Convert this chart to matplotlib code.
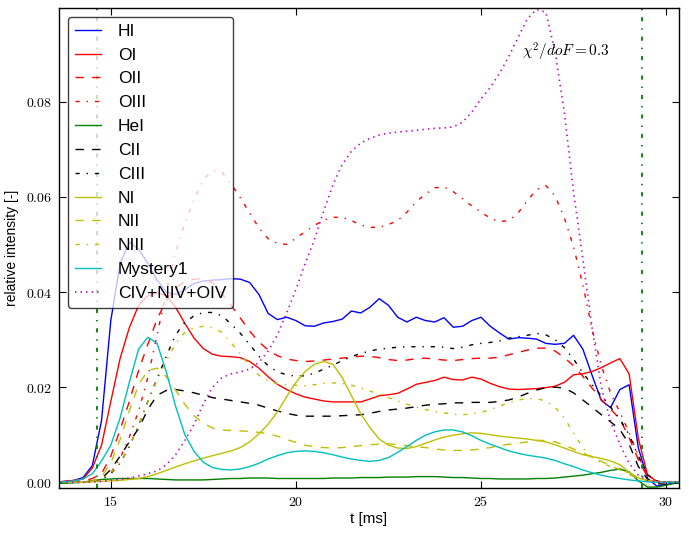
import numpy as np
import matplotlib
matplotlib.use("Agg")
import matplotlib.pyplot as plt
from matplotlib.ticker import FuncFormatter, MultipleLocator

plt.rcParams['mathtext.fontset'] = 'cm'
plt.rcParams['lines.scale_dashes'] = False
plt.rcParams['lines.dashed_pattern'] = [6, 6]
plt.rcParams['lines.dashdot_pattern'] = [3, 5, 1, 5]
plt.rcParams['lines.dotted_pattern'] = [1, 3]

# time grid [ms], step 0.25 from 13.5 to 30.5
t = np.arange(13.5, 30.51, 0.25)

hi = [0.0, 0.0002, 0.0004, 0.001, 0.0035, 0.013, 0.034, 0.046, 0.0505, 0.049,
      0.046, 0.0425, 0.0400, 0.0395, 0.0405, 0.0418, 0.0423, 0.0425, 0.0426, 0.0428,
      0.0427, 0.0420, 0.0395, 0.0355, 0.0342, 0.0347, 0.0340, 0.0329, 0.0328, 0.0335,
      0.0338, 0.0343, 0.0360, 0.0356, 0.0368, 0.0386, 0.0372, 0.0347, 0.0337, 0.0347,
      0.0340, 0.0337, 0.0346, 0.0326, 0.0328, 0.0340, 0.0347, 0.0328, 0.0314, 0.0301,
      0.0304, 0.0303, 0.0301, 0.0292, 0.0290, 0.0292, 0.0309, 0.0280, 0.0225, 0.0172,
      0.0157, 0.0195, 0.0205, 0.0072, 0.0008, -0.0008, -0.0005, 0.0, 0.0]
oi = [0.0, 0.0002, 0.0004, 0.0007, 0.003, 0.0078, 0.017, 0.026, 0.0325, 0.0372,
      0.0392, 0.0399, 0.0392, 0.0368, 0.0334, 0.0303, 0.0281, 0.0269, 0.0265, 0.0264,
      0.0262, 0.0254, 0.0240, 0.0222, 0.0206, 0.0195, 0.0186, 0.0179, 0.0175, 0.0171,
      0.0169, 0.0169, 0.0169, 0.0169, 0.0175, 0.0182, 0.0184, 0.0187, 0.0196, 0.0206,
      0.0210, 0.0214, 0.0221, 0.0216, 0.0215, 0.0221, 0.0217, 0.0208, 0.0201, 0.0196,
      0.0195, 0.0196, 0.0197, 0.0199, 0.0202, 0.0210, 0.0226, 0.0228, 0.0233, 0.0241,
      0.0251, 0.0260, 0.0228, 0.0092, 0.0015, 0.0002, 0.0, 0.0, 0.0]
oii = [0.0, 0.0, 0.0001, 0.0003, 0.0008, 0.0018, 0.0055, 0.011, 0.017, 0.0235,
       0.029, 0.0343, 0.0383, 0.0408, 0.0422, 0.0427, 0.0428, 0.0420, 0.0397, 0.0372,
       0.0345, 0.0318, 0.0295, 0.0278, 0.0266, 0.0259, 0.0256, 0.0254, 0.0255, 0.0257,
       0.0259, 0.0261, 0.0263, 0.0265, 0.0265, 0.0262, 0.0258, 0.0256, 0.0257, 0.0260,
       0.0261, 0.0259, 0.0257, 0.0256, 0.0258, 0.0260, 0.0261, 0.0261, 0.0263, 0.0268,
       0.0273, 0.0278, 0.0282, 0.0282, 0.0276, 0.0262, 0.0245, 0.0223, 0.0198, 0.0174,
       0.0154, 0.0133, 0.0094, 0.0047, 0.0011, 0.0002, 0.0, 0.0, 0.0]
oiii = [0.0, 0.0, 0.0, 0.0001, 0.0003, 0.0008, 0.002, 0.005, 0.0095, 0.015,
        0.022, 0.031, 0.040, 0.0485, 0.0545, 0.0595, 0.0637, 0.0655, 0.0652, 0.0627,
        0.0598, 0.0566, 0.0535, 0.0512, 0.0502, 0.0500, 0.0513, 0.0527, 0.0540, 0.0551,
        0.0557, 0.0557, 0.0550, 0.0541, 0.0536, 0.0536, 0.0542, 0.0550, 0.0568, 0.0590,
        0.0606, 0.0619, 0.0621, 0.0611, 0.0596, 0.0581, 0.0568, 0.0555, 0.0548, 0.0550,
        0.0566, 0.0592, 0.0615, 0.0624, 0.0602, 0.0556, 0.0495, 0.0415, 0.0322, 0.0245,
        0.0188, 0.0147, 0.0105, 0.0055, 0.0015, 0.0003, 0.0, 0.0, 0.0]
hei = [-0.0002, -0.0002, -0.0001, 0.0, 0.0003, 0.0006, 0.0007, 0.0008, 0.0008, 0.0008,
       0.0008, 0.0007, 0.0006, 0.0005, 0.0005, 0.0005, 0.0005, 0.0006, 0.0007, 0.0008,
       0.0008, 0.0009, 0.0009, 0.0009, 0.0008, 0.0008, 0.0008, 0.0008, 0.0008, 0.0008,
       0.0009, 0.0009, 0.0009, 0.0010, 0.0010, 0.0010, 0.0011, 0.0011, 0.0011, 0.0012,
       0.0012, 0.0012, 0.0011, 0.0010, 0.0010, 0.0009, 0.0008, 0.0008, 0.0007, 0.0007,
       0.0007, 0.0007, 0.0008, 0.0008, 0.0009, 0.0011, 0.0013, 0.0015, 0.0018, 0.0021,
       0.0025, 0.0028, 0.0022, 0.0003, -0.0010, -0.0010, -0.0006, -0.0002, 0.0]
cii = [0.0, 0.0, 0.0, 0.0001, 0.0003, 0.0008, 0.0027, 0.0055, 0.0085, 0.0113,
       0.0153, 0.0183, 0.0193, 0.0195, 0.0192, 0.0188, 0.0183, 0.0178, 0.0175, 0.0172,
       0.0169, 0.0166, 0.0162, 0.0156, 0.0150, 0.0145, 0.0141, 0.0139, 0.0139, 0.0139,
       0.0139, 0.0140, 0.0141, 0.0142, 0.0145, 0.0149, 0.0152, 0.0154, 0.0156, 0.0159,
       0.0162, 0.0164, 0.0165, 0.0167, 0.0167, 0.0168, 0.0168, 0.0168, 0.0170, 0.0173,
       0.0179, 0.0187, 0.0194, 0.0199, 0.0200, 0.0198, 0.0188, 0.0173, 0.0158, 0.0142,
       0.0127, 0.0111, 0.0080, 0.0033, 0.0006, -0.0003, -0.0004, -0.0002, 0.0]
ciii = [0.0, 0.0, 0.0, 0.0001, 0.0002, 0.0006, 0.0018, 0.004, 0.0075, 0.012,
        0.017, 0.0218, 0.0265, 0.0310, 0.0336, 0.0350, 0.0357, 0.0357, 0.0350, 0.0333,
        0.0313, 0.0290, 0.0265, 0.0245, 0.0232, 0.0226, 0.0223, 0.0224, 0.0229, 0.0238,
        0.0246, 0.0256, 0.0264, 0.0271, 0.0276, 0.0280, 0.0282, 0.0284, 0.0285, 0.0285,
        0.0285, 0.0285, 0.0284, 0.0281, 0.0284, 0.0289, 0.0292, 0.0294, 0.0297, 0.0303,
        0.0306, 0.0309, 0.0313, 0.0310, 0.0300, 0.0283, 0.0259, 0.0230, 0.0205, 0.0182,
        0.0158, 0.0133, 0.0100, 0.0055, 0.0016, 0.0003, 0.0, 0.0, 0.0]
ni = [0.0, 0.0, 0.0, 0.0, 0.0001, 0.0002, 0.0003, 0.0004, 0.0006, 0.0008,
      0.0012, 0.0018, 0.0025, 0.0032, 0.0039, 0.0045, 0.0051, 0.0056, 0.0061, 0.0066,
      0.0073, 0.0085, 0.0102, 0.0122, 0.0148, 0.0180, 0.0210, 0.0233, 0.0248, 0.0254,
      0.0248, 0.0220, 0.0182, 0.0144, 0.0115, 0.0091, 0.0078, 0.0072, 0.0071, 0.0075,
      0.0082, 0.0089, 0.0095, 0.0099, 0.0102, 0.0104, 0.0103, 0.0100, 0.0097, 0.0095,
      0.0093, 0.0091, 0.0088, 0.0085, 0.0079, 0.0072, 0.0065, 0.0058, 0.0054, 0.0050,
      0.0045, 0.0037, 0.0021, 0.0009, 0.0003, 0.0001, 0.0, 0.0, 0.0]
nii = [0.0, 0.0, 0.0, 0.0001, 0.0003, 0.0012, 0.004, 0.009, 0.015, 0.0205,
       0.0235, 0.0240, 0.0222, 0.0194, 0.0164, 0.0140, 0.0124, 0.0114, 0.0110, 0.0109,
       0.0108, 0.0107, 0.0105, 0.0102, 0.0097, 0.0090, 0.0084, 0.0078, 0.0075, 0.0073,
       0.0072, 0.0073, 0.0075, 0.0077, 0.0079, 0.0080, 0.0081, 0.0079, 0.0077, 0.0075,
       0.0073, 0.0070, 0.0068, 0.0067, 0.0067, 0.0068, 0.0070, 0.0073, 0.0077, 0.0080,
       0.0082, 0.0085, 0.0088, 0.0088, 0.0085, 0.0078, 0.0070, 0.0062, 0.0053, 0.0044,
       0.0035, 0.0026, 0.0016, 0.0009, 0.0004, 0.0001, 0.0, 0.0, 0.0]
niii = [0.0, 0.0, 0.0, 0.0, 0.0002, 0.0008, 0.002, 0.004, 0.0075, 0.012,
        0.017, 0.0215, 0.0255, 0.0292, 0.0315, 0.0325, 0.0328, 0.0325, 0.0315, 0.0293,
        0.0270, 0.0245, 0.0225, 0.0213, 0.0207, 0.0205, 0.0204, 0.0203, 0.0205, 0.0208,
        0.0209, 0.0208, 0.0204, 0.0198, 0.0192, 0.0185, 0.0178, 0.0171, 0.0164, 0.0158,
        0.0153, 0.0149, 0.0146, 0.0143, 0.0142, 0.0144, 0.0147, 0.0153, 0.0160, 0.0168,
        0.0173, 0.0176, 0.0176, 0.0171, 0.0158, 0.0135, 0.0104, 0.0072, 0.0052, 0.0041,
        0.0033, 0.0028, 0.0019, 0.0010, 0.0004, 0.0001, 0.0, 0.0, 0.0]
mystery1 = [0.0, 0.0001, 0.0003, 0.0007, 0.0018, 0.0045, 0.0078, 0.0135, 0.0210, 0.0280,
            0.0305, 0.0292, 0.0232, 0.0160, 0.0100, 0.0065, 0.0042, 0.0031, 0.0027, 0.0026,
            0.0028, 0.0033, 0.0040, 0.0049, 0.0056, 0.0062, 0.0065, 0.0066, 0.0065, 0.0062,
            0.0058, 0.0053, 0.0049, 0.0046, 0.0044, 0.0046, 0.0052, 0.0063, 0.0075, 0.0088,
            0.0099, 0.0106, 0.0110, 0.0110, 0.0106, 0.0098, 0.0088, 0.0080, 0.0073, 0.0066,
            0.0061, 0.0057, 0.0054, 0.0051, 0.0046, 0.0039, 0.0033, 0.0026, 0.0020, 0.0015,
            0.0011, 0.0008, 0.0005, 0.0003, 0.0001, 0.0, 0.0, 0.0, 0.0]
civ_niv_oiv = [0.0, 0.0, 0.0, 0.0, 0.0001, 0.0002, 0.0004, 0.0006, 0.0009, 0.0013,
               0.0018, 0.0024, 0.0037, 0.0058, 0.0088, 0.0122, 0.0165, 0.0200, 0.0220, 0.0228,
               0.0232, 0.0238, 0.0252, 0.0276, 0.0310, 0.0356, 0.0405, 0.0460, 0.0510, 0.0570,
               0.0625, 0.0668, 0.0696, 0.0713, 0.0723, 0.0730, 0.0734, 0.0736, 0.0738, 0.0740,
               0.0742, 0.0744, 0.0745, 0.0747, 0.0757, 0.0778, 0.0806, 0.0830, 0.0860, 0.0895,
               0.0935, 0.0974, 0.0994, 0.0988, 0.0905, 0.0778, 0.0610, 0.0470, 0.0325, 0.0200,
               0.0128, 0.0080, 0.0040, 0.0015, 0.0004, 0.0001, 0.0, 0.0, 0.0]

t_start, t_end = 14.63, 29.36   # integration window [ms]
chi2_dof = 0.3

fig = plt.figure(figsize=(6.89, 5.33), dpi=100)
ax = fig.add_axes([0.0856, 0.0844, 0.9, 0.9006])

ax.plot(t, hi, 'b-', lw=1.0, label='HI')
ax.plot(t, oi, 'r-', lw=1.0, label='OI')
ax.plot(t, oii, 'r--', lw=1.0, label='OII')
ax.plot(t, oiii, 'r-.', lw=1.0, label='OIII')
ax.plot(t, hei, 'g-', lw=1.0, label='HeI')
ax.plot(t, cii, 'k--', lw=1.0, label='CII')
ax.plot(t, ciii, 'k-.', lw=1.0, label='CIII')
ax.plot(t, ni, 'y-', lw=1.0, label='NI')
ax.plot(t, nii, 'y--', lw=1.0, label='NII')
ax.plot(t, niii, 'y-.', lw=1.0, label='NIII')
ax.plot(t, mystery1, 'c-', lw=1.0, label='Mystery1')
ax.plot(t, civ_niv_oiv, 'm:', lw=1.2, label='CIV+NIV+OIV')

ax.axvline(t_start, color='g', ls='-.', lw=1.3)
ax.axvline(t_end, color='g', ls='-.', lw=1.3)

ax.text(27.3, 0.0905, r'$\chi^2/doF=%.1f$' % chi2_dof, ha='center', va='center', fontsize=11)

ax.set_xlim(13.6, 30.35)
ax.set_ylim(-0.0012, 0.0997)
ax.xaxis.set_major_locator(MultipleLocator(5))
ax.yaxis.set_major_locator(MultipleLocator(0.02))
ax.xaxis.set_major_formatter(FuncFormatter(lambda v, p: r'$%d$' % v))
ax.yaxis.set_major_formatter(FuncFormatter(lambda v, p: r'$%.2f$' % v))
ax.tick_params(direction='in', top=True, right=True, length=5, width=0.8, labelsize=10, pad=5)
for s in ax.spines.values():
    s.set_linewidth(1.0)

ax.set_xlabel('t [ms]', fontsize=11, family='Liberation Sans', labelpad=2)
ax.set_ylabel('relative intensity [-]', fontsize=10, family='Liberation Sans', labelpad=5)

leg = ax.legend(loc='upper left', prop={'family': 'Liberation Sans', 'size': 12.5},
                handlelength=1.5, labelspacing=0.5, handletextpad=1.0,
                fancybox=True, framealpha=0.75)
leg.get_frame().set_edgecolor('black')

fig.savefig('out.png', dpi=100)
